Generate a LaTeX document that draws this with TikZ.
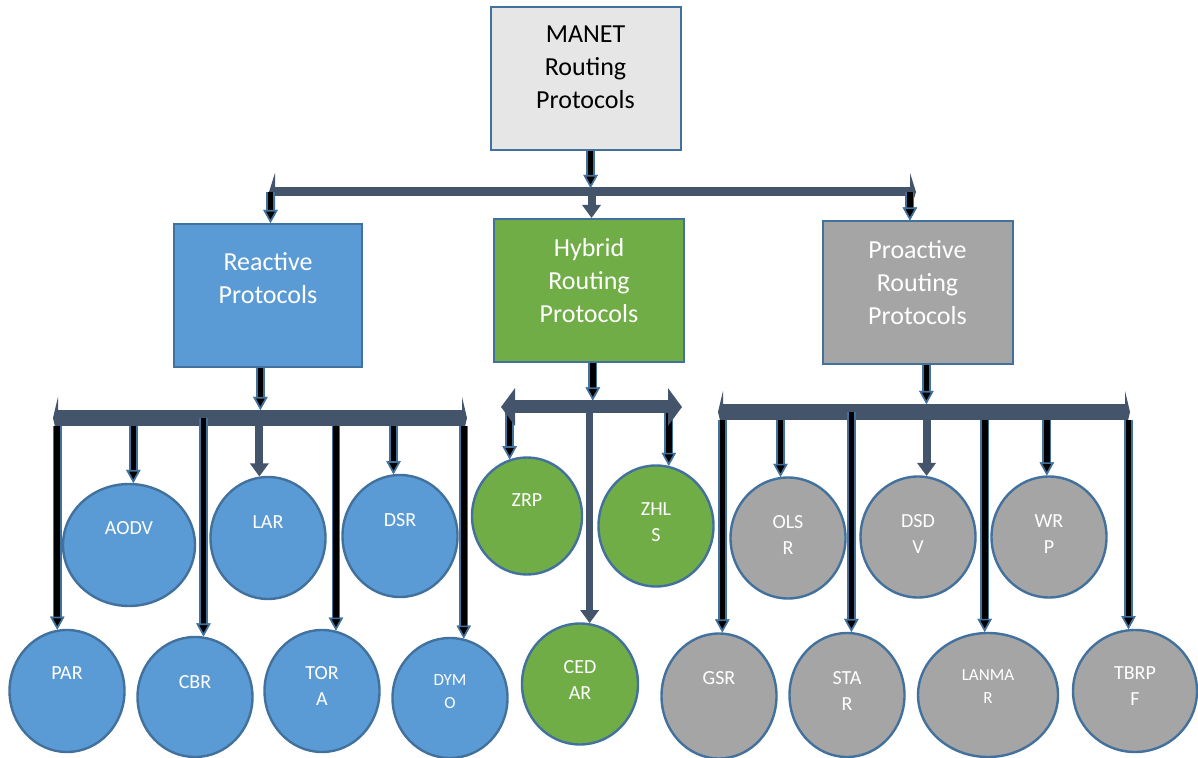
\documentclass[tikz,border=0pt]{standalone}
\usepackage{fontspec}
\setmainfont{Carlito}
\usetikzlibrary{arrows.meta,shapes.geometric}

\definecolor{edge}{HTML}{41719C}
\definecolor{slate}{HTML}{44546A}
\definecolor{rblue}{HTML}{5B9BD5}
\definecolor{hgreen}{HTML}{70AD47}
\definecolor{pgray}{HTML}{A5A5A5}
\definecolor{mgray}{HTML}{E7E6E6}

\tikzset{
  box/.style={draw=edge, line width=1pt, minimum width=95pt, minimum height=71.5pt, inner sep=0pt},
  btxt/.style={white, align=center, inner sep=0pt, font=\fontsize{13}{16.5}\selectfont},
  bub/.style={ellipse, draw=edge, line width=1.2pt, minimum width=57.5pt, minimum height=61pt, inner sep=0pt},
  ctxt/.style={white, align=center, inner sep=0pt, font=\fontsize{10}{13}\selectfont},
  stxt/.style={font=\fontsize{8.5}{11.5}\selectfont},
  bar/.style={slate, line width=8pt, {Triangle[width=21pt,length=2.5pt]}-{Triangle[width=21pt,length=2.5pt]}},
  blk/.style={black, line width=2.8pt, -{Triangle[width=7pt,length=6.5pt,color=edge,fill=black,line width=0.8pt]},
    preaction={draw=edge, line width=4.4pt}},
  sla/.style={slate, line width=4pt, -{Triangle[width=9pt,length=6.5pt]}}
}

\begin{document}
\begin{tikzpicture}[x=0.5pt,y=-0.5pt]
\useasboundingbox (0,0) rectangle (1198,758);
\fill[white] (0,0) rectangle (1198,758);

% boxes
\node[box, fill=mgray, label={[btxt, black, yshift=5.5pt]center:MANET\\Routing\\Protocols}] (manet) at (585.5,78.5) {};
\node[box, fill=rblue, minimum width=94pt, label={[btxt, yshift=8.5pt]center:Reactive\\Protocols}] (react) at (268,295.5) {};
\node[box, fill=hgreen, label={[btxt, yshift=5pt]center:Hybrid\\Routing\\Protocols}] (hybrid) at (589,290.5) {};
\node[box, fill=pgray, label={[btxt, yshift=5.25pt]center:Proactive\\Routing\\Protocols}] (proact) at (917.5,293) {};

% reactive
\node[bub, fill=rblue, minimum width=66pt, label={[ctxt, yshift=8.5pt]center:AODV}] (aodv) at (129,545) {};
\node[bub, fill=rblue, label={[ctxt, yshift=8pt]center:LAR}] (lar) at (268,538) {};
\node[bub, fill=rblue, label={[ctxt, yshift=8pt]center:DSR}] (dsr) at (400,536) {};
\node[bub, fill=rblue, label={[ctxt, yshift=9pt]center:PAR}] (par) at (67,691) {};
\node[bub, fill=rblue, minimum height=60pt, label={[ctxt, yshift=7.5pt]center:CBR}] (cbr) at (195,697) {};
\node[bub, fill=rblue, label={[ctxt, yshift=2.25pt]center:TOR\\A}] (tora) at (322,691) {};
\node[bub, fill=rblue, minimum height=60pt, label={[ctxt, stxt, yshift=3.25pt]center:DYM\\O}] (dymo) at (450,698) {};

% hybrid
\node[bub, fill=hgreen, minimum width=55pt, minimum height=58.5pt, label={[ctxt, yshift=8pt]center:ZRP}] (zrp) at (527,516) {};
\node[bub, fill=hgreen, minimum height=60.5pt, label={[ctxt, yshift=1.75pt]center:ZHL\\S}] (zhls) at (656,526) {};
\node[bub, fill=hgreen, minimum width=58pt, minimum height=60.5pt, label={[ctxt, yshift=1.75pt]center:CED\\AR}] (cedar) at (580,684) {};

% proactive
\node[bub, fill=pgray, minimum height=60.5pt, label={[ctxt, yshift=1.5pt]center:OLS\\R}] (olsr) at (788,538) {};
\node[bub, fill=pgray, minimum height=60.5pt, label={[ctxt, yshift=1.5pt]center:DSD\\V}] (dsdv) at (918,537) {};
\node[bub, fill=pgray, minimum height=60.5pt, label={[ctxt, yshift=1.5pt]center:WR\\P}] (wrp) at (1049,537) {};
\node[bub, fill=pgray, minimum height=62.5pt, label={[ctxt, yshift=9pt]center:GSR}] (gsr) at (719,696) {};
\node[bub, fill=pgray, minimum height=62pt, label={[ctxt, yshift=1.75pt]center:STA\\R}] (star) at (847,695) {};
\node[bub, fill=pgray, minimum width=70pt, minimum height=62pt, label={[ctxt, stxt, yshift=4pt]center:LANMA\\R}] (lanmar) at (988,695) {};
\node[bub, fill=pgray, minimum width=62pt, label={[ctxt, yshift=2.25pt]center:TBRP\\F}] (tbrpf) at (1135,691) {};

\coordinate (tl) at (269,192); \coordinate (tr) at (916,192);
\coordinate (rl) at (53,418); \coordinate (rr) at (467,418);
\coordinate (hl) at (501,407); \coordinate (hr) at (682,407);
\coordinate (pl) at (718,412); \coordinate (pr) at (1130,412);

% first level
\draw[bar, line width=4.5pt, {Triangle[width=19pt,length=3pt]}-{Triangle[width=19pt,length=3pt]}] (tl) -- (tr);
\draw[blk, shorten >=2pt] (manet.274) -- (manet.274 |- tl);
\draw[blk] (react.88 |- tl) -- (react.88);
\draw[sla] (hybrid.88 |- tl) -- (hybrid.88);
\draw[blk] (proact.96 |- tr) -- (proact.96);

% reactive
\draw[blk] (aodv.86 |- rl) -- (aodv.86);
\draw[blk] (dsr.96 |- rl) -- (dsr.96);
\draw[blk] (tora.77 |- rl) -- (tora.77);
\draw[bar] (rl) -- (rr);
\draw[sla] (lar.98 |- rl) -- (lar.98);
\draw[blk, shorten <=4pt] (par.99 |- rl) -- (par.99);
\draw[blk] (cbr.82 |- rl) -- (cbr.82);
\draw[blk, shorten <=4pt] (dymo.77 |- rl) -- (dymo.77);
\draw[blk, shorten >=4pt] (react.264) -- (react.264 |- rl);

% hybrid
\draw[blk] (zrp.107 |- hl) -- (zrp.107);
\draw[blk] (zhls.78 |- hl) -- (zhls.78);
\draw[bar, line width=6.5pt, {Triangle[width=18.5pt,length=7pt]}-{Triangle[width=18.5pt,length=7pt]}] (hl) -- (hr);
\draw[sla, line width=3.5pt] (cedar.81 |- hl) -- (cedar.81);
\draw[blk, shorten >=3.25pt] (hybrid.273) -- (hybrid.273 |- hl);

% proactive
\draw[blk] (olsr.97 |- pl) -- (olsr.97);
\draw[blk] (wrp.92 |- pl) -- (wrp.92);
\draw[blk] (lanmar.93 |- pl) -- (lanmar.93);
\draw[bar] (pl) -- (pr);
\draw[sla] (dsdv.82 |- pl) -- (dsdv.82);
\draw[blk, shorten <=4pt] (gsr.87 |- pl) -- (gsr.87);
\draw[blk] (star.86 |- pl) -- (star.86);
\draw[blk, shorten <=4pt] (tbrpf.96 |- pl) -- (tbrpf.96);
\draw[blk, shorten >=4pt] (proact.277) -- (proact.277 |- pl);
\end{tikzpicture}
\end{document}
